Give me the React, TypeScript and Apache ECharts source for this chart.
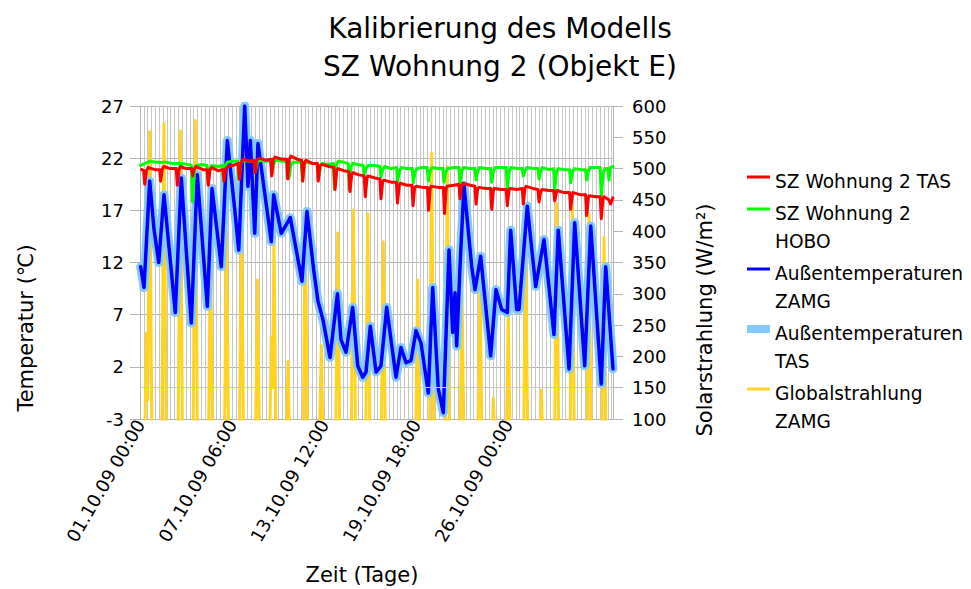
import React, { useEffect, useRef } from 'react';
import * as echarts from 'echarts';

const FONT = '"DejaVu Sans", "Liberation Sans", Arial, sans-serif';

const titleText = 'Kalibrierung des Modells\nSZ Wohnung 2 (Objekt E)';
const xAxisName = 'Zeit (Tage)';
const leftAxisName = 'Temperatur (℃)';
const rightAxisName = 'Solarstrahlung (W/m²)';

// x axis: running index (hours-like units) from 01.10.09 00:00, labelled every 150 units
const xMax = 771;
const xLabelStep = 150;
const xTickLabels = ['01.10.09 00:00', '07.10.09 06:00', '13.10.09 12:00', '19.10.09 18:00', '26.10.09 00:00'];

const tempMin = -3;
const tempMax = 27;
const tempStep = 5;
const solarMin = 100;
const solarMax = 600;
const solarStep = 50;

const seriesNames = [
  'SZ Wohnung 2 TAS',
  'SZ Wohnung 2 HOBO',
  'Außentemperaturen ZAMG',
  'Außentemperaturen TAS',
  'Globalstrahlung ZAMG',
];

// Room temperature, TAS simulation [x, °C]
const roomTas: [number, number][] = [
  [2.8, 20.9], [6, 20.8], [7.7, 19.5], [10.5, 20.8], [13, 21.1], [24.5, 20.9], [32, 20.9], [33.7, 19.8], [36.5, 21.0],
  [39, 21.2], [48.9, 21.0], [59, 21.0], [60.8, 19.4], [63.6, 20.9], [66, 21.2], [75, 21.0], [84.1, 21.0],
  [85.9, 20.3], [88.7, 21.0], [91.3, 21.2], [102.7, 20.9], [109.5, 20.9], [111.3, 19.4], [114.1, 20.9], [117.4, 21.1],
  [127, 20.8], [135.1, 20.9], [136.9, 19.8], [139.7, 21.0], [143.4, 21.2], [151.6, 21.3], [160.1, 21.5], [161.9, 20.0],
  [164.7, 21.6], [167.9, 21.9], [179.3, 21.7], [185.7, 21.8], [187.5, 20.6], [190.3, 21.8], [194, 22.0], [205.4, 21.8],
  [212.9, 21.9], [214.7, 20.3], [217.5, 21.9], [220, 22.1], [231.5, 21.9], [239, 21.9], [240.8, 20.0], [243.6, 21.9],
  [246, 22.2], [256, 21.9], [263.4, 21.8], [265.2, 19.8], [268, 21.6], [270.6, 21.8], [280.4, 21.5], [288.8, 21.5],
  [290.6, 19.8], [293.4, 21.3], [296.7, 21.4], [308, 21.2], [316.1, 21.1], [317.9, 19.0], [320.7, 20.8], [322.7, 21.0],
  [332.5, 20.8], [340.5, 20.7], [342.3, 18.8], [345.1, 20.4], [347.2, 20.6], [357, 20.4], [365.4, 20.3], [367.2, 18.3],
  [370, 20.1], [371.6, 20.3], [383, 20.1], [391, 20.0], [392.8, 18.1], [395.6, 19.8], [397.7, 19.9], [409, 19.7],
  [417.9, 19.7], [419.7, 17.7], [422.5, 19.4], [423.8, 19.6], [435.2, 19.4], [443.2, 19.4], [445, 17.45], [447.8, 19.2],
  [449.9, 19.3], [461.3, 19.2], [468.5, 19.2], [470.3, 17.0], [473.1, 19.1], [474.3, 19.3], [485.7, 19.2], [494.5, 19.2],
  [496.3, 16.7], [499.1, 19.1], [500.4, 19.3], [511.8, 19.4], [519.8, 19.5], [521.6, 18.1], [524.4, 19.4], [526.5, 19.6],
  [537.9, 19.4], [545.9, 19.3], [547.7, 17.6], [550.5, 19.1], [552.6, 19.2], [564, 19.1], [571.5, 19.1], [573.3, 17.1],
  [576.1, 18.9], [577, 19.1], [588.4, 19.0], [596.9, 19.0], [598.7, 17.45], [601.5, 18.9], [603.1, 19.1], [614.5, 19.0],
  [623, 19.1], [624.8, 17.6], [627.6, 19.1], [629.2, 19.3], [640.6, 19.1], [648.6, 19.0], [650.4, 17.8], [653.2, 18.8],
  [655.3, 19.0], [666.7, 18.9], [674.2, 18.9], [676, 17.9], [678.8, 18.7], [679.7, 18.9], [691.1, 18.7], [700.2, 18.7],
  [702, 17.1], [704.8, 18.5], [705.8, 18.7], [717.2, 18.5], [726.3, 18.5], [728.1, 16.5], [730.9, 18.2], [731.9, 18.4],
  [743.3, 18.3], [750.1, 18.3], [751.9, 16.2], [754.7, 18.1], [756.3, 18.3], [764.5, 18.0], [767.2, 17.6], [771, 18.2],
];

// Room temperature, HOBO logger [x, °C]
const roomHobo: [number, number][] = [
  [0.8, 21.3], [8.2, 21.5], [16.3, 21.7], [26.1, 21.6], [42.4, 21.6], [52.2, 21.5], [68.5, 21.5], [78.2, 21.4],
  [83.8, 21.3], [85.6, 17.8], [88.6, 21.0], [91.6, 21.3], [101.1, 21.4], [109, 21.3], [110.8, 19.6], [113.8, 21.0],
  [116.8, 21.3], [127.1, 21.2], [134.3, 21.3], [136.1, 19.8], [139.1, 21.3], [142.1, 21.6], [151.6, 21.7], [159.1, 21.7],
  [160.9, 20.0], [163.9, 21.4], [166.9, 21.8], [177.7, 21.7], [186.1, 21.7], [187.9, 20.7], [190.9, 21.5], [193.9, 21.8],
  [205.4, 21.7], [213.4, 21.7], [215.2, 20.5], [218.2, 21.5], [221.2, 21.8], [233.1, 21.7], [241.1, 21.6], [242.9, 20.1],
  [245.9, 21.3], [248.9, 21.6], [255.9, 21.6], [263.1, 21.6], [264.9, 19.8], [267.9, 21.3], [270.9, 21.6], [282, 21.5],
  [289.5, 21.5], [291.3, 20.2], [294.3, 21.2], [297.3, 21.5], [308, 21.4], [315.2, 21.5], [317, 19.0], [320, 21.3],
  [323, 21.7], [332.5, 21.6], [339.4, 21.5], [341.2, 19.0], [344.2, 21.2], [347.2, 21.5], [355.3, 21.4], [363.8, 21.3],
  [365.6, 20.5], [368.6, 21.0], [371.6, 21.3], [383, 21.3], [391, 21.2], [392.8, 20.2], [395.8, 20.9], [398.8, 21.2],
  [409, 21.0], [418.2, 21.1], [420, 19.8], [423, 20.8], [426, 21.1], [435.2, 21.0], [443.7, 21.0], [445.5, 19.65],
  [448.5, 20.7], [451.5, 21.0], [459.7, 21.1], [468.2, 21.1], [470, 19.8], [473, 20.8], [476, 21.1], [485.7, 21.0],
  [493.7, 21.0], [495.5, 19.7], [498.5, 20.7], [501.5, 21.0], [511.8, 21.1], [519.8, 21.1], [521.6, 19.65], [524.6, 20.8],
  [527.6, 21.1], [537.9, 21.0], [545.9, 21.0], [547.7, 19.9], [550.7, 20.8], [553.7, 21.1], [564, 21.0], [571.5, 21.0],
  [573.3, 19.7], [576.3, 20.8], [579.3, 21.1], [588.4, 21.1], [596.9, 21.1], [598.7, 19.0], [601.7, 20.7], [604.7, 21.1],
  [614.5, 21.0], [623, 21.0], [624.8, 20.3], [627.8, 20.8], [630.8, 21.1], [640.6, 21.0], [648.6, 21.0], [650.4, 20.0],
  [653.4, 20.8], [656.4, 21.1], [666.7, 20.9], [674.2, 21.0], [676, 19.0], [679, 20.7], [682, 21.0], [691.1, 20.9],
  [700.2, 20.9], [702, 19.65], [705, 20.7], [708, 21.0], [717.2, 20.9], [726.3, 20.9], [728.1, 19.9], [731.1, 20.8],
  [734.1, 21.1], [743.3, 21.1], [750.1, 21.1], [751.9, 18.3], [754.9, 20.6], [757.9, 21.0], [762.5, 21.0], [764.5, 19.9],
  [766.5, 21.1], [771, 21.2],
];

// Outdoor temperature, ZAMG [x, °C]
const outdoorZamg: [number, number][] = [
  [1.1, 11.6], [6.5, 9.6], [15.8, 19.8], [22.8, 15.2], [30.5, 12.0], [39.1, 18.5], [57.5, 7.2],
  [67.3, 20.1], [83.6, 6.2], [93.4, 20.4], [109.7, 7.8], [117.4, 19.1], [132.5, 11.6], [142.3, 23.7],
  [154.4, 17.1], [160.9, 13.2], [170.7, 27.0], [176, 19.3], [179.8, 23.7], [187, 14.8], [192.3, 23.4],
  [214, 14.0], [217.9, 18.5], [230.3, 14.8], [245, 16.3], [264, 10.2], [272.2, 16.9], [283.1, 11.3],
  [290.1, 8.3], [298.3, 6.5], [309.7, 2.9], [321.9, 9.0], [327.6, 4.6], [335.8, 3.4], [346.7, 7.7],
  [354.9, 2.1], [363, 1.0], [368.4, 1.5], [375.4, 5.9], [384.7, 1.5], [392.8, 2.1], [402.1, 7.7],
  [417.3, 1.0], [425.4, 3.85], [433.6, 2.4], [441.7, 2.6], [449.9, 5.45], [458, 4.3], [469.9, -0.5],
  [477.1, 9.6], [486.2, -0.1], [494.4, -2.4], [503.7, 13.2], [509.7, 5.3], [513.5, 9.1], [516.2, 4.0],
  [521.6, 11.6], [528.1, 19.4], [540.7, 11.6], [546.1, 9.4], [555.3, 12.6], [571.6, 3.05], [580.3, 9.4],
  [589.6, 7.5], [598.7, 7.2], [604.2, 15.1], [614, 7.5], [617.8, 7.5], [631.3, 17.4], [645, 9.7],
  [658.5, 14.2], [674.8, 5.1], [681.8, 15.1], [699.3, 1.8], [708.6, 15.8], [724.9, 2.1], [734.7, 15.5],
  [751.9, 0.35], [759.1, 11.6], [771, 1.8],
];

// Outdoor temperature, TAS weather file [x, °C]
const outdoorTas: [number, number][] = outdoorZamg;

// Global radiation, ZAMG [x, W/m²] – night values (0) lie below the axis minimum
const radiation: [number, number][] = [
  [7, 0], [10.3, 237], [12.5, 130], [15.8, 559], [19.8, 0],
  [35.1, 0], [39.1, 572], [43.1, 0],
  [61.7, 0], [65.7, 560], [69.7, 0],
  [86.1, 0], [90.1, 577], [94.1, 0],
  [110.9, 0], [114.9, 380], [118.9, 0],
  [137, 0], [141, 400], [145, 0],
  [161.4, 0], [165.4, 434], [169.4, 0],
  [187.5, 0], [191.5, 322], [195.5, 0],
  [210.5, 0], [214, 231], [216, 150], [218.4, 386], [222.4, 0],
  [237.2, 0], [241.2, 192], [245.2, 0],
  [265.4, 0], [269.4, 436], [273.4, 0],
  [291.5, 0], [295.5, 218], [299.5, 0],
  [318.3, 0], [322.3, 397], [326.3, 0],
  [344, 0], [346, 300], [347, 250], [348, 434], [352, 0],
  [367.2, 0], [371.2, 428], [375.2, 0],
  [392.6, 0], [396.6, 383], [400.6, 0],
  [448.6, 0], [452.6, 322], [456.6, 0],
  [471.4, 0], [475.4, 524], [479.4, 0],
  [496.9, 0], [500.9, 503], [504.9, 0],
  [520.9, 0], [524.9, 300], [528.9, 0],
  [550.2, 0], [554.2, 330], [558.2, 0],
  [571.9, 0], [575.9, 133], [579.9, 0],
  [596.3, 0], [600.3, 269], [604.3, 0],
  [624.7, 0], [628.7, 386], [632.7, 0],
  [650.1, 0], [654.1, 146], [658.1, 0],
  [675.2, 0], [679.2, 444], [683.2, 0],
  [700.6, 0], [704.6, 439], [708.6, 0],
  [727.9, 0], [731.9, 428], [735.9, 0],
  [752.3, 0], [756.3, 391], [760.3, 0],
];

const colors = {
  roomTas: '#ff0000',
  roomHobo: '#00ff00',
  outdoorZamg: '#0000ff',
  outdoorTas: '#83caff',
  radiation: '#ffd320',
};

const legendItems = [
  { lines: ['SZ Wohnung 2 TAS'], color: colors.roomTas, y: 181, thick: false },
  { lines: ['SZ Wohnung 2', 'HOBO'], color: colors.roomHobo, y: 213, thick: false },
  { lines: ['Außentemperaturen', 'ZAMG'], color: colors.outdoorZamg, y: 273, thick: false },
  { lines: ['Außentemperaturen', 'TAS'], color: colors.outdoorTas, y: 333, thick: true },
  { lines: ['Globalstrahlung', 'ZAMG'], color: colors.radiation, y: 393, thick: false },
];

function buildLegend(): any[] {
  const els: any[] = [];
  legendItems.forEach((it) => {
    const iy = it.y - 4;
    if (it.thick) {
      els.push({ type: 'rect', shape: { x: 747, y: iy - 4, width: 23, height: 8 }, style: { fill: it.color } });
    } else {
      els.push({ type: 'line', shape: { x1: 747, y1: iy, x2: 770, y2: iy }, style: { stroke: it.color, lineWidth: 3 } });
    }
    it.lines.forEach((t, k) => {
      els.push({
        type: 'text',
        x: 775,
        y: it.y + k * 28,
        style: {
          text: t,
          font: `18.6px ${FONT}`,
          fill: '#000',
          align: 'left',
          verticalAlign: 'middle',
          textAlign: 'left',
          textVerticalAlign: 'middle',
        },
      });
    });
  });
  return els;
}

function axisNameText(text: string, x: number, y: number, rot: number) {
  return {
    type: 'text',
    x,
    y,
    rotation: rot,
    style: {
      text,
      font: `21px ${FONT}`,
      fill: '#000',
      align: 'center',
      verticalAlign: 'middle',
      textAlign: 'center',
      textVerticalAlign: 'middle',
    },
  };
}

const lineSeries = (name: string, data: [number, number][], color: string, width: number, z: number, yAxisIndex = 0) => ({
  name,
  type: 'line',
  yAxisIndex,
  data,
  symbol: 'none',
  showSymbol: false,
  clip: true,
  z,
  lineStyle: { color, width, join: 'round', cap: 'round' },
  itemStyle: { color },
  emphasis: { disabled: true },
});

export default function App() {
  const ref = useRef<HTMLDivElement>(null);
  useEffect(() => {
    if (!ref.current) return;
    const chart = echarts.init(ref.current, undefined, { renderer: 'svg' });
    const radiationSeries: any = lineSeries(seriesNames[4], radiation, colors.radiation, 3, 1, 1);
    radiationSeries.markLine = {
      silent: true,
      symbol: 'none',
      label: { show: false },
      lineStyle: { color: '#c8c8c8', width: 1, type: 'solid' },
      data: [{ yAxis: 150 }],
    };
    chart.setOption({
      animation: false,
      backgroundColor: '#ffffff',
      title: {
        text: titleText,
        left: 495,
        top: 4,
        textAlign: 'center',
        textStyle: { fontFamily: FONT, fontSize: 28, fontWeight: 'normal', color: '#000', lineHeight: 38 },
      },
      grid: { left: 140, right: 358, top: 106, bottom: 170, containLabel: false },
      xAxis: {
        type: 'value',
        min: 0,
        max: xMax,
        interval: xLabelStep,
        axisLine: { show: true, lineStyle: { color: '#b3b3b3' } },
        axisTick: { show: false },
        axisLabel: {
          rotate: 60,
          margin: 2,
          fontFamily: FONT,
          fontSize: 18,
          color: '#000',
          showMaxLabel: false,
          formatter: (v: number) => {
            const i = v / xLabelStep;
            return Number.isInteger(i) && xTickLabels[i] ? xTickLabels[i] : '';
          },
        },
        splitLine: { show: true, lineStyle: { color: '#c6c6c6', width: 1 } },
        minorTick: { show: false, splitNumber: 24 },
        minorSplitLine: { show: true, lineStyle: { color: '#c6c6c6', width: 1 } },
      },
      yAxis: [
        {
          type: 'value',
          position: 'left',
          min: tempMin,
          max: tempMax,
          interval: tempStep,
          axisLine: { show: true, lineStyle: { color: '#b3b3b3' } },
          axisTick: { show: true, length: 10, lineStyle: { color: '#b3b3b3' } },
          axisLabel: { margin: 16, fontFamily: FONT, fontSize: 18, color: '#000' },
          splitLine: { show: true, lineStyle: { color: '#b3b3b3', width: 1 } },
        },
        {
          type: 'value',
          position: 'right',
          min: solarMin,
          max: solarMax,
          interval: solarStep,
          axisLine: { show: true, lineStyle: { color: '#b3b3b3' } },
          axisTick: { show: true, length: 10, lineStyle: { color: '#b3b3b3' } },
          axisLabel: { margin: 19, fontFamily: FONT, fontSize: 18, color: '#000' },
          splitLine: { show: false },
        },
      ],
      series: [
        radiationSeries,
        lineSeries(seriesNames[3], outdoorTas, colors.outdoorTas, 9, 2),
        lineSeries(seriesNames[2], outdoorZamg, colors.outdoorZamg, 3.5, 3),
        lineSeries(seriesNames[1], roomHobo, colors.roomHobo, 3, 4),
        lineSeries(seriesNames[0], roomTas, colors.roomTas, 3, 5),
      ],
      graphic: [
        ...buildLegend(),
        axisNameText(leftAxisName, 26, 328, Math.PI / 2),
        axisNameText(rightAxisName, 705, 320, Math.PI / 2),
        axisNameText(xAxisName, 362, 575, 0),
      ],
    });
    return () => chart.dispose();
  }, []);
  return (
    <div
      ref={ref}
      style={{ position: 'fixed', left: 0, top: 0, width: 971, height: 589, background: '#fff' }}
    />
  );
}
